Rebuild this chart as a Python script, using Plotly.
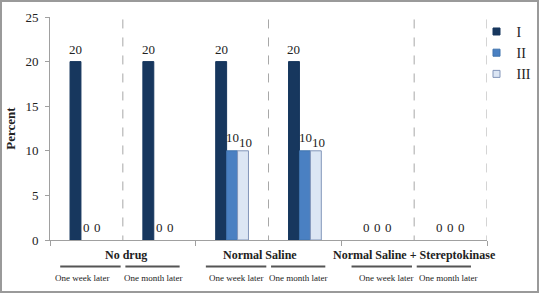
import plotly.graph_objects as go

# ---- data ----
groups = ["No drug", "Normal Saline", "Normal Saline + Stereptokinase"]
sub_labels = ["One week later", "One month later",
              "One week later", "One month later",
              "One week later", "One month later"]
series_names = ["I", "II", "III"]
values_I = [20, 20, 20, 20, 0, 0]
values_II = [0, 0, 10, 10, 0, 0]
values_III = [0, 0, 10, 10, 0, 0]
y_ticks = [0, 5, 10, 15, 20, 25]

# ---- styling / layout helpers ----
colors = ["#17375e", "#4a80c2", "#dce6f4"]
outlines = ["#17375e", "#3f72ad", "#8396ba"]
serif = "Liberation Serif"
bargap = 0.55
bar_w = (1 - bargap) / 3
label_shift = [(0, 3), (0.5, 4), (2.5, -1)]          # (xshift, yshift) per series when > 0
sub_offsets = [-0.06, -0.09, 0.05, -0.1, 0.12, -0.03]
group_pos = [0.55, 2.38, 4.5]

x = list(range(len(sub_labels)))
series_vals = [values_I, values_II, values_III]

fig = go.Figure()
for name, vals, c, oc in zip(series_names, series_vals, colors, outlines):
    fig.add_trace(go.Bar(
        x=x, y=vals, name=name,
        marker=dict(color=c, line=dict(color=oc, width=[1 if v > 0 else 0 for v in vals])),
        showlegend=False, hoverinfo="x+y+name",
    ))
for name, c, oc in zip(series_names, colors, outlines):
    fig.add_trace(go.Scatter(
        x=[None], y=[None], mode="markers", name=name,
        marker=dict(symbol="square", size=7, color=c, line=dict(color=oc, width=1)),
        legendgroup=name,
    ))

annotations = []
for k, vals in enumerate(series_vals):
    xs, ys = label_shift[k]
    for i, v in zip(x, vals):
        annotations.append(dict(text=str(v), x=i + (k - 1) * bar_w, y=v, xref="x", yref="y",
                                showarrow=False, yanchor="bottom", xanchor="center",
                                xshift=xs if v > 0 else 0, yshift=ys if v > 0 else 3,
                                font=dict(family=serif, size=13, color="#222")))

shapes = []
for bx in [0.5, 2.5, 4.5, 5.5]:
    shapes.append(dict(type="line", xref="x", yref="y", x0=bx, x1=bx, y0=-0.5, y1=25,
                       line=dict(color="#a8a8a8", width=1, dash="dash")))
for i in x:
    if i % 2 == 0:
        a, b = i - 0.36, i + 0.47
    else:
        a, b = i - 0.465, i + 0.28
    shapes.append(dict(type="line", xref="x", yref="paper", x0=a, x1=b, y0=-0.119, y1=-0.119,
                       line=dict(color="#555", width=2)))
pw, ph = 437, 223
shapes.append(dict(type="rect", xref="paper", yref="paper",
                   x0=-49 / pw, x1=1 + 51 / pw, y0=-52 / ph, y1=1 + 16 / ph,
                   line=dict(color="#9a9a9a", width=2), layer="below"))

for g, gx in zip(groups, group_pos):
    annotations.append(dict(text="<b>%s</b>" % g, x=gx, y=-0.067, xref="x", yref="paper",
                            showarrow=False, font=dict(family=serif, size=12, color="#222"),
                            xanchor="center", yanchor="middle"))
for i, s, off in zip(x, sub_labels, sub_offsets):
    annotations.append(dict(text=s, x=i + off, y=-0.172, xref="x", yref="paper",
                            showarrow=False, font=dict(family=serif, size=9, color="#222"),
                            xanchor="center", yanchor="middle"))

fig.update_layout(
    width=539, height=293,
    margin=dict(l=50, r=52, t=17, b=53, autoexpand=False),
    paper_bgcolor="white", plot_bgcolor="white",
    barmode="group", bargap=bargap, bargroupgap=0,
    font=dict(family=serif, size=13, color="#222"),
    shapes=shapes, annotations=annotations,
    legend=dict(x=0.976, y=1.005, xanchor="left", yanchor="top",
                font=dict(family=serif, size=14, color="#222"),
                tracegroupgap=0, bgcolor="rgba(0,0,0,0)"),
    xaxis=dict(range=[-0.5, 5.5], tickvals=[-0.5, 1.5, 3.5, 5.5], ticktext=["", "", "", ""],
               ticks="outside", ticklen=5, tickcolor="#a0a0a0", showline=True,
               linecolor="#a0a0a0", linewidth=1, showgrid=False, zeroline=False,
               automargin=False),
    yaxis=dict(range=[0, 25], tickvals=y_ticks, ticks="outside", ticklen=4,
               tickcolor="#a0a0a0", showline=True, linecolor="#a0a0a0", linewidth=1,
               showgrid=False, zeroline=False, tickfont=dict(family=serif, size=13),
               ticklabelstandoff=4, automargin=False,
               title=dict(text="<b>Percent</b>", font=dict(family=serif, size=13), standoff=6)),
)

fig.write_html("out.html", config={"displayModeBar": False},
               post_script="document.body.style.margin='0';document.body.style.padding='0';")
